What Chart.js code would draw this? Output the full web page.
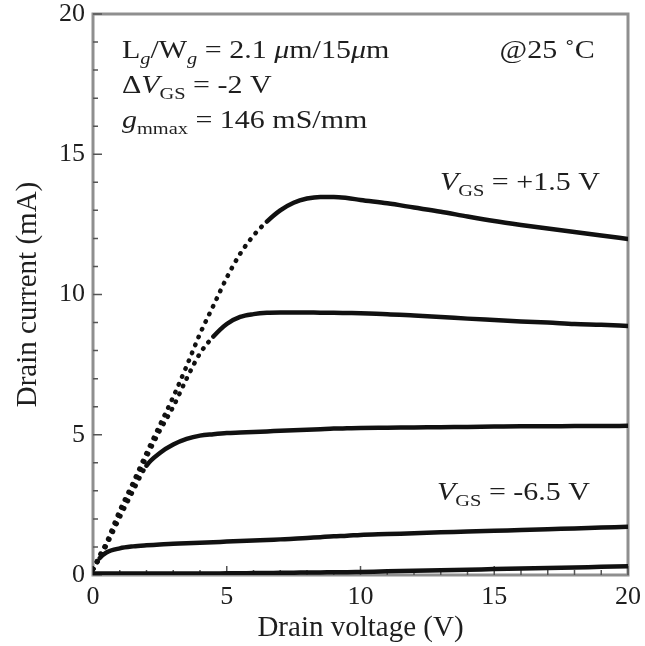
<!DOCTYPE html>
<html>
<head>
<meta charset="utf-8">
<script src="https://cdn.jsdelivr.net/npm/chart.js@4/dist/chart.umd.min.js"></script>
<style>
  html, body { margin: 0; padding: 0; background: #fff; }
</style>
</head>
<body>
<canvas id="ivChart" width="645" height="646"></canvas>
<script>
// drain voltage (V) sample points shared by every curve
const drainVoltage = [0, 0.25, 0.5, 1, 1.5, 2, 2.5, 3, 3.5, 4, 4.5, 5, 5.5, 6, 6.5, 7, 7.5, 8, 8.5, 9, 9.5, 10,
  11, 12, 13, 14, 15, 16, 17, 18, 19, 20];

// drain current (mA), VGS from +1.5 V down in -2 V steps
const idVgsP15 = [0.2, 0.7, 1.15, 2.3, 3.3, 4.35, 5.35, 6.35, 7.45, 8.6, 9.6, 10.6, 11.45, 12.1, 12.6, 13.0, 13.27,
  13.42, 13.48, 13.48, 13.44, 13.37, 13.25, 13.1, 12.95, 12.78, 12.62, 12.48, 12.35, 12.23, 12.1, 11.98];
const idVgsM05 = [0.2, 0.65, 1.1, 2.2, 3.2, 4.2, 5.15, 6.0, 7.0, 7.9, 8.5, 8.95, 9.2, 9.3, 9.35, 9.36, 9.36, 9.36,
  9.35, 9.35, 9.34, 9.33, 9.3, 9.25, 9.2, 9.14, 9.09, 9.04, 9.0, 8.95, 8.92, 8.88];
const idVgsM25 = [0.2, 0.6, 1.05, 2.05, 3.0, 3.9, 4.35, 4.65, 4.85, 4.97, 5.02, 5.06, 5.08, 5.1, 5.12, 5.14, 5.16,
  5.18, 5.2, 5.22, 5.23, 5.24, 5.25, 5.26, 5.27, 5.28, 5.29, 5.3, 5.3, 5.31, 5.31, 5.32];
const idVgsM45 = [0.2, 0.6, 0.8, 0.95, 1.02, 1.06, 1.09, 1.11, 1.13, 1.15, 1.17, 1.19, 1.21, 1.23, 1.25, 1.27, 1.29,
  1.32, 1.35, 1.38, 1.4, 1.43, 1.46, 1.49, 1.52, 1.55, 1.58, 1.6, 1.63, 1.66, 1.69, 1.72];
const idVgsM65 = [0.05, 0.05, 0.05, 0.05, 0.05, 0.05, 0.05, 0.05, 0.05, 0.05, 0.05, 0.06, 0.06, 0.07, 0.07, 0.08,
  0.08, 0.09, 0.09, 0.1, 0.1, 0.11, 0.13, 0.15, 0.17, 0.19, 0.21, 0.23, 0.25, 0.27, 0.29, 0.31];

const curves = [idVgsP15, idVgsM05, idVgsM25, idVgsM45, idVgsM65];
const axisTicks = [0, 5, 10, 15, 20];

const SERIF = '"Liberation Serif", "DejaVu Serif", serif';
const INK = '#1e1e1e';

// steep parts of the sweep show up as separate measurement dots
function steep(ctx) {
  const a = ctx.p0.parsed, b = ctx.p1.parsed;
  return (b.y - a.y) / (b.x - a.x) > 0.9;
}

const frameAndTicks = {
  id: 'frameAndTicks',
  beforeDatasetsDraw(chart) {
    const { ctx, chartArea: a, scales: { x, y } } = chart;
    ctx.save();
    ctx.strokeStyle = '#8f8f8f';
    ctx.lineWidth = 3;
    ctx.strokeRect(a.left, a.top, a.right - a.left, a.bottom - a.top);
    ctx.lineWidth = 1.5;
    ctx.strokeStyle = '#555';
    ctx.beginPath();
    for (let v = 0; v <= 20; v++) {
      const len = v % 5 ? 5 : 9;
      const py = y.getPixelForValue(v);
      ctx.moveTo(a.left, py);
      ctx.lineTo(a.left + len, py);
      const px = x.getPixelForValue(v);
      ctx.moveTo(px, a.bottom);
      ctx.lineTo(px, a.bottom - len);
    }
    ctx.stroke();
    ctx.restore();
  }
};

// the figure's lettering is a wide serif, so stretch it a little
function drawRuns(ctx, x, y, runs, size) {
  ctx.save();
  ctx.translate(x, y);
  ctx.scale(1.2, 1);
  let cx = 0;
  runs.forEach(r => {
    const fs = r.sub ? Math.round(size * 0.66) : size;
    ctx.font = (r.it ? 'italic ' : '') + fs + 'px ' + SERIF;
    ctx.fillText(r.t, cx, r.sub ? size * 0.24 : 0);
    cx += ctx.measureText(r.t).width;
  });
  ctx.restore();
}

const notes = [
  { x: 1.08, y: 18.43, runs: [{ t: 'L' }, { t: 'g', sub: true, it: true }, { t: '/W' }, { t: 'g', sub: true, it: true },
    { t: ' = 2.1 ' }, { t: 'μ', it: true }, { t: 'm/15' }, { t: 'μ', it: true }, { t: 'm' }] },
  { x: 15.2, y: 18.43, runs: [{ t: '@25 ˚C' }] },
  { x: 1.08, y: 17.18, runs: [{ t: 'Δ' }, { t: 'V', it: true }, { t: 'GS', sub: true }, { t: ' = -2 V' }] },
  { x: 1.08, y: 15.94, runs: [{ t: 'g', it: true }, { t: 'mmax', sub: true }, { t: ' = 146 mS/mm' }] },
  { x: 12.97, y: 13.73, runs: [{ t: 'V', it: true }, { t: 'GS', sub: true }, { t: ' = +1.5 V' }] },
  { x: 12.86, y: 2.67, runs: [{ t: 'V', it: true }, { t: 'GS', sub: true }, { t: ' = -6.5 V' }] }
];

const annotations = {
  id: 'annotations',
  afterDatasetsDraw(chart) {
    const { ctx, scales: { x, y } } = chart;
    ctx.save();
    ctx.fillStyle = INK;
    ctx.textBaseline = 'alphabetic';
    notes.forEach(n => drawRuns(ctx, x.getPixelForValue(n.x), y.getPixelForValue(n.y), n.runs, 25));
    ctx.restore();
  }
};

new Chart(document.getElementById('ivChart'), {
  type: 'line',
  data: {
    datasets: curves.map(c => ({
      data: drainVoltage.map((v, i) => ({ x: v, y: c[i] })),
      borderColor: '#111',
      borderWidth: 4.5,
      borderCapStyle: 'round',
      borderJoinStyle: 'round',
      pointRadius: 0,
      cubicInterpolationMode: 'monotone',
      segment: { borderDash: ctx => steep(ctx) ? [0.5, 8] : undefined }
    }))
  },
  options: {
    responsive: false,
    animation: false,
    layout: { padding: { left: 0, right: 17, top: 14, bottom: 0 } },
    plugins: { legend: { display: false }, tooltip: { enabled: false } },
    scales: {
      x: {
        type: 'linear', min: 0, max: 20,
        afterBuildTicks: s => { s.ticks = axisTicks.map(v => ({ value: v })); },
        afterFit: s => { s.height = 71; s.paddingLeft = 0; s.paddingRight = 0; },
        grid: { display: false, drawTicks: false },
        border: { display: false },
        ticks: { padding: 7, color: INK, font: { family: SERIF, size: 26 } },
        title: { display: true, text: 'Drain voltage (V)', color: INK, padding: { top: 0, bottom: 0 },
          font: { family: SERIF, size: 29 } }
      },
      y: {
        type: 'linear', min: 0, max: 20,
        afterBuildTicks: s => { s.ticks = axisTicks.map(v => ({ value: v })); },
        afterFit: s => { s.width = 93; s.paddingTop = 0; s.paddingBottom = 0; },
        grid: { display: false, drawTicks: false },
        border: { display: false },
        ticks: { padding: 8, color: INK, font: { family: SERIF, size: 26 } },
        title: { display: true, text: 'Drain current (mA)', color: INK, padding: { top: 11, bottom: 0 },
          font: { family: SERIF, size: 29 } }
      }
    }
  },
  plugins: [frameAndTicks, annotations]
});
</script>
</body>
</html>
